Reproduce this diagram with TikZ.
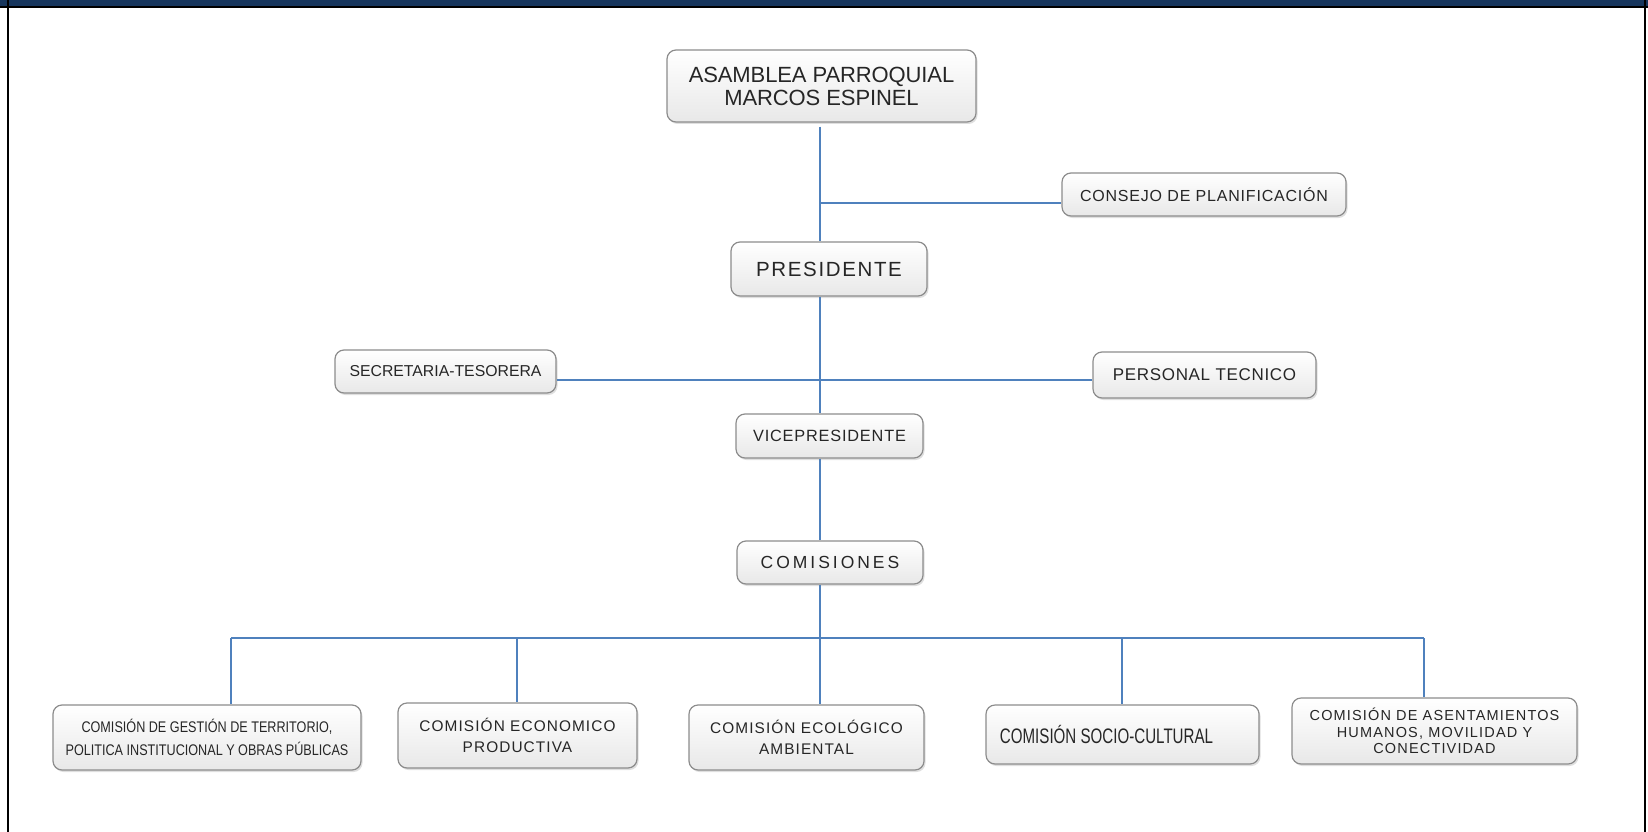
\documentclass[tikz,border=0pt]{standalone}
\usepackage{fontspec}
\setmainfont{Liberation Sans}
\usetikzlibrary{shadows}
\definecolor{navy}{HTML}{17365D}
\definecolor{conncol}{HTML}{4F81BD}
\definecolor{bord}{HTML}{8C8C8C}
\definecolor{txt}{HTML}{262626}
\newcommand{\fs}[3]{\fontsize{#1pt}{#2pt}\selectfont\addfontfeature{LetterSpace=#3}}
\newcommand{\fsn}[4]{\fontsize{#1pt}{#2pt}\selectfont\addfontfeature{LetterSpace=#3,FakeStretch=#4}}
\tikzset{
  orgbox/.style={draw=bord, line width=1.2pt, rounded corners=9pt,
    top color=white, bottom color=black!9, text=txt, align=center,
    inner sep=0pt,
    drop shadow={opacity=0.25, shadow xshift=1.5pt, shadow yshift=-2pt}},
  conn/.style={draw=conncol, line width=1.5pt}
}
\begin{document}
\begin{tikzpicture}[x=1pt,y=-1pt]
\fill[white] (0,0) rectangle (1648,832);
\useasboundingbox (0,0) rectangle (1648,832);
\fill[navy] (0,0) rectangle (1648,6);
\fill[black] (0,6) rectangle (1648,8);
\fill[black] (7,0) rectangle (9,832);
\fill[black] (1644,0) rectangle (1646,832);

\node[orgbox, minimum width=309pt, minimum height=72pt, font=\fs{22}{23}{-0.5}] (asam) at (821.5,86) {ASAMBLEA PARROQUIAL\\MARCOS ESPINEL};
\node[orgbox, minimum width=284pt, minimum height=43pt, font=\fs{16}{18}{5}] (cons) at (1204,194.5) {CONSEJO DE PLANIFICACIÓN};
\node[orgbox, minimum width=196pt, minimum height=54pt, font=\fs{20.5}{21}{8}] (pres) at (829,269) {PRESIDENTE};
\node[orgbox, minimum width=221pt, minimum height=43pt, font=\fs{15.8}{18}{0}] (secr) at (445.5,371.5) {SECRETARIA-TESORERA};
\node[orgbox, minimum width=223pt, minimum height=46pt, font=\fs{17}{18}{4}] (pers) at (1204.5,375) {PERSONAL TECNICO};
\node[orgbox, minimum width=187pt, minimum height=44pt, font=\fs{16.3}{18}{5}] (vice) at (829.5,436) {VICEPRESIDENTE};
\node[orgbox, minimum width=186pt, minimum height=43pt, font=\fs{17.5}{18}{17}] (comis) at (830,562.5) {COMISIONES};

\node[orgbox, minimum width=308pt, minimum height=65pt, font=\fsn{15.4}{23}{0}{0.82}] (c1) at (207,737.5) {COMISIÓN DE GESTIÓN DE TERRITORIO,\\POLITICA INSTITUCIONAL Y OBRAS PÚBLICAS};
\node[orgbox, minimum width=239pt, minimum height=65pt, font=\fs{15.4}{20.5}{7}] (c2) at (517.5,735.5) {COMISIÓN ECONOMICO\\PRODUCTIVA};
\node[orgbox, minimum width=235pt, minimum height=65pt, font=\fs{15.4}{21.5}{7}] (c3) at (806.5,737.5) {COMISIÓN ECOLÓGICO\\AMBIENTAL};
\node[orgbox, minimum width=273pt, minimum height=59pt, font=\fsn{21}{22}{0}{0.72}] (c4) at (1122.5,734.5) {COMISIÓN SOCIO-CULTURAL\kern32pt};
\node[orgbox, minimum width=285pt, minimum height=66pt, font=\fs{14.5}{16.5}{8}] (c5) at (1434.5,731) {COMISIÓN DE ASENTAMIENTOS\\HUMANOS, MOVILIDAD Y\\CONECTIVIDAD};

\coordinate (j1) at (820,203);
\coordinate (j2) at (820,380);
\coordinate (bus) at (820,638);
\coordinate (b1) at (231,638);
\coordinate (b2) at (517,638);
\coordinate (b4) at (1122,638);
\coordinate (b5) at (1424,638);

\draw[conn] ([yshift=-4pt]asam.south -| j1) -- (pres.north -| j1);
\draw[conn] (j1) -- (cons.west |- j1);
\draw[conn] (pres.south -| j2) -- (vice.north -| j2);
\draw[conn] (secr.east |- j2) -- (pers.west |- j2);
\draw[conn] (vice.south -| j2) -- (comis.north -| j2);
\draw[conn] (comis.south -| bus) -- (bus);
\draw[conn] (b1) -- (b5);
\draw[conn] (b1) -- (b1 |- c1.north);
\draw[conn] (b2) -- (b2 |- c2.north);
\draw[conn] (bus) -- (bus |- c3.north);
\draw[conn] (b4) -- (b4 |- c4.north);
\draw[conn] (b5) -- (b5 |- c5.north);
\end{tikzpicture}
\end{document}
